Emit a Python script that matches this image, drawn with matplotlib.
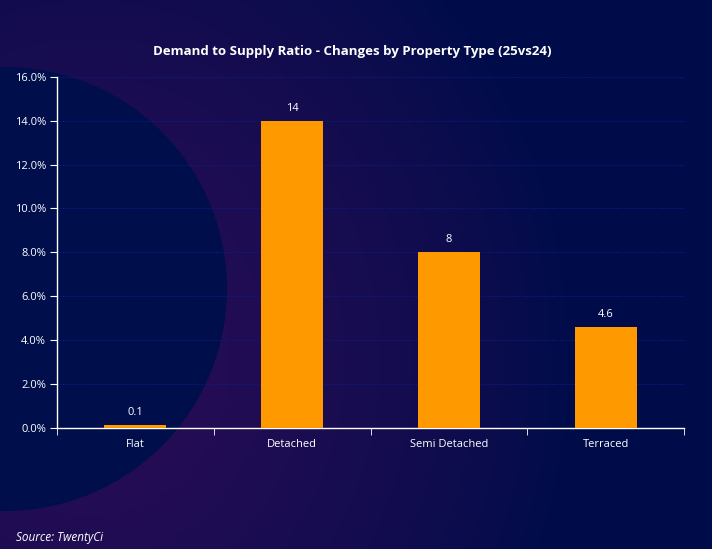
import matplotlib.pyplot as plt
import numpy as np
from matplotlib.patches import Circle
from matplotlib.ticker import FuncFormatter, MultipleLocator

categories = ['Flat', 'Detached', 'Semi Detached', 'Terraced']
values = [0.1, 14, 8, 4.6]
value_labels = ['0.1', '14', '8', '4.6']

NAVY = '#000c4a'
PURPLE = np.array([44, 12, 86]) / 255
BASE = np.array([0, 12, 74]) / 255

plt.rcParams['font.family'] = ['Open Sans', 'DejaVu Sans']

W, H = 712, 549
fig = plt.figure(figsize=(W / 100, H / 100), dpi=100)
fig.patch.set_facecolor(NAVY)

# background: purple glow behind a dark navy disc on the left
bg = fig.add_axes([0, 0, 1, 1], zorder=0)
yy, xx = np.mgrid[0:H, 0:W]
d = np.hypot(xx - 90, (yy - 360) * 0.9)
glow = np.clip(1 - d / 480, 0, 1) ** 0.75
img = BASE + (PURPLE - BASE) * glow[..., None]
bg.imshow(img, extent=[0, W, H, 0], aspect='auto')
bg.add_patch(Circle((5, 289), 222, color='#000e4c', lw=0))
bg.set_xlim(0, W)
bg.set_ylim(H, 0)
bg.axis('off')

ax = fig.add_axes([57 / W, 1 - 427.5 / H, 627 / W, 350.5 / H], zorder=1)
ax.patch.set_alpha(0)

x = np.arange(len(categories))
bars = ax.bar(x, values, width=0.395, color='#ff9900', zorder=3)
for b, lab in zip(bars, value_labels):
    ax.annotate(lab, (b.get_x() + b.get_width() / 2, b.get_height()),
                xytext=(0, 5), textcoords='offset points', ha='center',
                va='bottom', color='white', fontsize=8)

ax.set_xlim(-0.5, len(categories) - 0.5)
ax.set_ylim(0, 16)
ax.yaxis.set_major_locator(MultipleLocator(2))
ax.yaxis.set_major_formatter(FuncFormatter(lambda v, p: f'{v:.1f}%'))
ax.set_xticks(x)
ax.set_xticklabels(categories)
ax.set_xticks(np.arange(-0.5, len(categories)), minor=True)
ax.tick_params(axis='x', which='major', length=0, pad=8, colors='white', labelsize=8)
ax.tick_params(axis='x', which='minor', length=5, color='white', direction='out')
ax.tick_params(axis='y', length=5, color='white', colors='white', labelsize=8, pad=3)

ax.grid(axis='y', color='#0c1e8c', linestyle=(0, (1, 1.5)), linewidth=0.8, zorder=0)
for s in ['top', 'right']:
    ax.spines[s].set_visible(False)
for s in ['left', 'bottom']:
    ax.spines[s].set_color('white')
    ax.spines[s].set_linewidth(1)

fig.text(352 / W, 1 - 52 / H, 'Demand to Supply Ratio - Changes by Property Type (25vs24)',
         ha='center', va='center', color='white', fontsize=9.5, fontweight='bold')
fig.text(16 / W, 1 - 538 / H, 'Source: TwentyCi', ha='left', va='center',
         color='white', fontsize=8.5, fontstyle='italic')

fig.savefig('out.png', dpi=100, facecolor=fig.get_facecolor())
